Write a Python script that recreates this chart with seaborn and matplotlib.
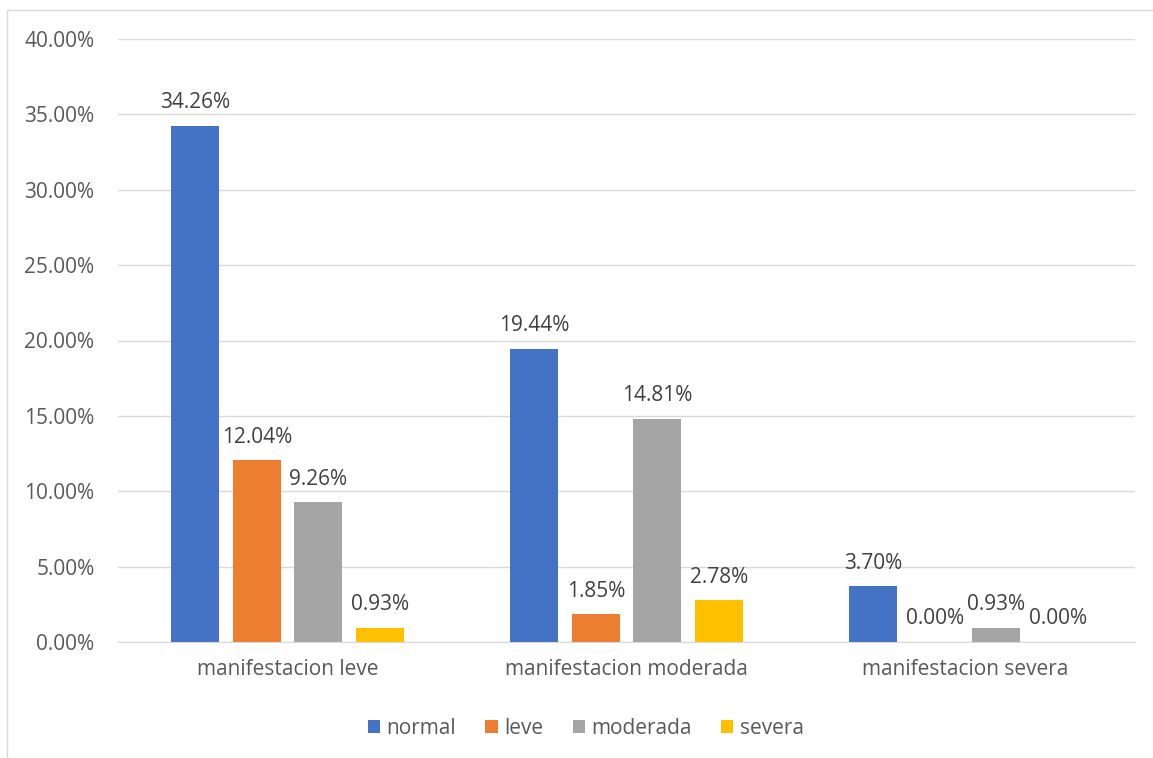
import matplotlib
matplotlib.use("Agg")
import matplotlib.pyplot as plt
from matplotlib.patches import Rectangle
from matplotlib.ticker import FuncFormatter
import seaborn as sns
import pandas as pd

categories = ["manifestacion leve", "manifestacion moderada", "manifestacion severa"]
series = ["normal", "leve", "moderada", "severa"]
normal = [34.26, 19.44, 3.70]
leve = [12.04, 1.85, 0.00]
moderada = [9.26, 14.81, 0.93]
severa = [0.93, 2.78, 0.00]
colors = ["#4472c4", "#ed7d31", "#a5a5a5", "#ffc000"]

rows = []
for name, vals in zip(series, [normal, leve, moderada, severa]):
    for c, v in zip(categories, vals):
        rows.append({"cat": c, "serie": name, "val": v / 100})
df = pd.DataFrame(rows)

sns.set_style("white")
plt.rcParams["font.family"] = ["Open Sans", "DejaVu Sans"]
txt = "#595959"

fig = plt.figure(figsize=(11.53, 7.58), dpi=100)
ax = fig.add_axes([118 / 1153, 1 - 642 / 758, 1017 / 1153, 603 / 758])

sns.barplot(data=df, x="cat", y="val", hue="serie", palette=colors,
            width=0.725, gap=0.22, ax=ax, saturation=1, legend=True,
            edgecolor="none")

ax.set_ylim(0, 0.40)
ax.set_yticks([i * 0.05 for i in range(9)])
ax.yaxis.set_major_formatter(FuncFormatter(lambda v, p: f"{v * 100:.2f}%"))
ax.grid(axis="y", color="#d9d9d9", linewidth=1)
ax.set_axisbelow(True)
for s in ["left", "right", "top"]:
    ax.spines[s].set_visible(False)
ax.spines["bottom"].set_color("#d9d9d9")
ax.tick_params(axis="both", length=0, labelsize=15, colors=txt)
ax.tick_params(axis="y", pad=17)
ax.tick_params(axis="x", pad=12)
ax.set_xlabel("")
ax.set_ylabel("")

for cont in ax.containers:
    ax.bar_label(cont, labels=[f"{b.get_height() * 100:.2f}%" for b in cont],
                 padding=9, fontsize=15, color="#404040")

ax.legend(loc="center", bbox_to_anchor=(0.46, -0.143), ncol=4, frameon=False,
          fontsize=15, handlelength=0.6, handleheight=0.6, handletextpad=0.3,
          columnspacing=1.4, labelcolor=txt)

fig.patches.append(Rectangle((7 / 1153, -0.1), 1.2, 1 - 10 / 758 + 0.1,
                             transform=fig.transFigure, fill=False,
                             edgecolor="#d9d9d9", linewidth=1))

fig.savefig("out.png", dpi=100)
